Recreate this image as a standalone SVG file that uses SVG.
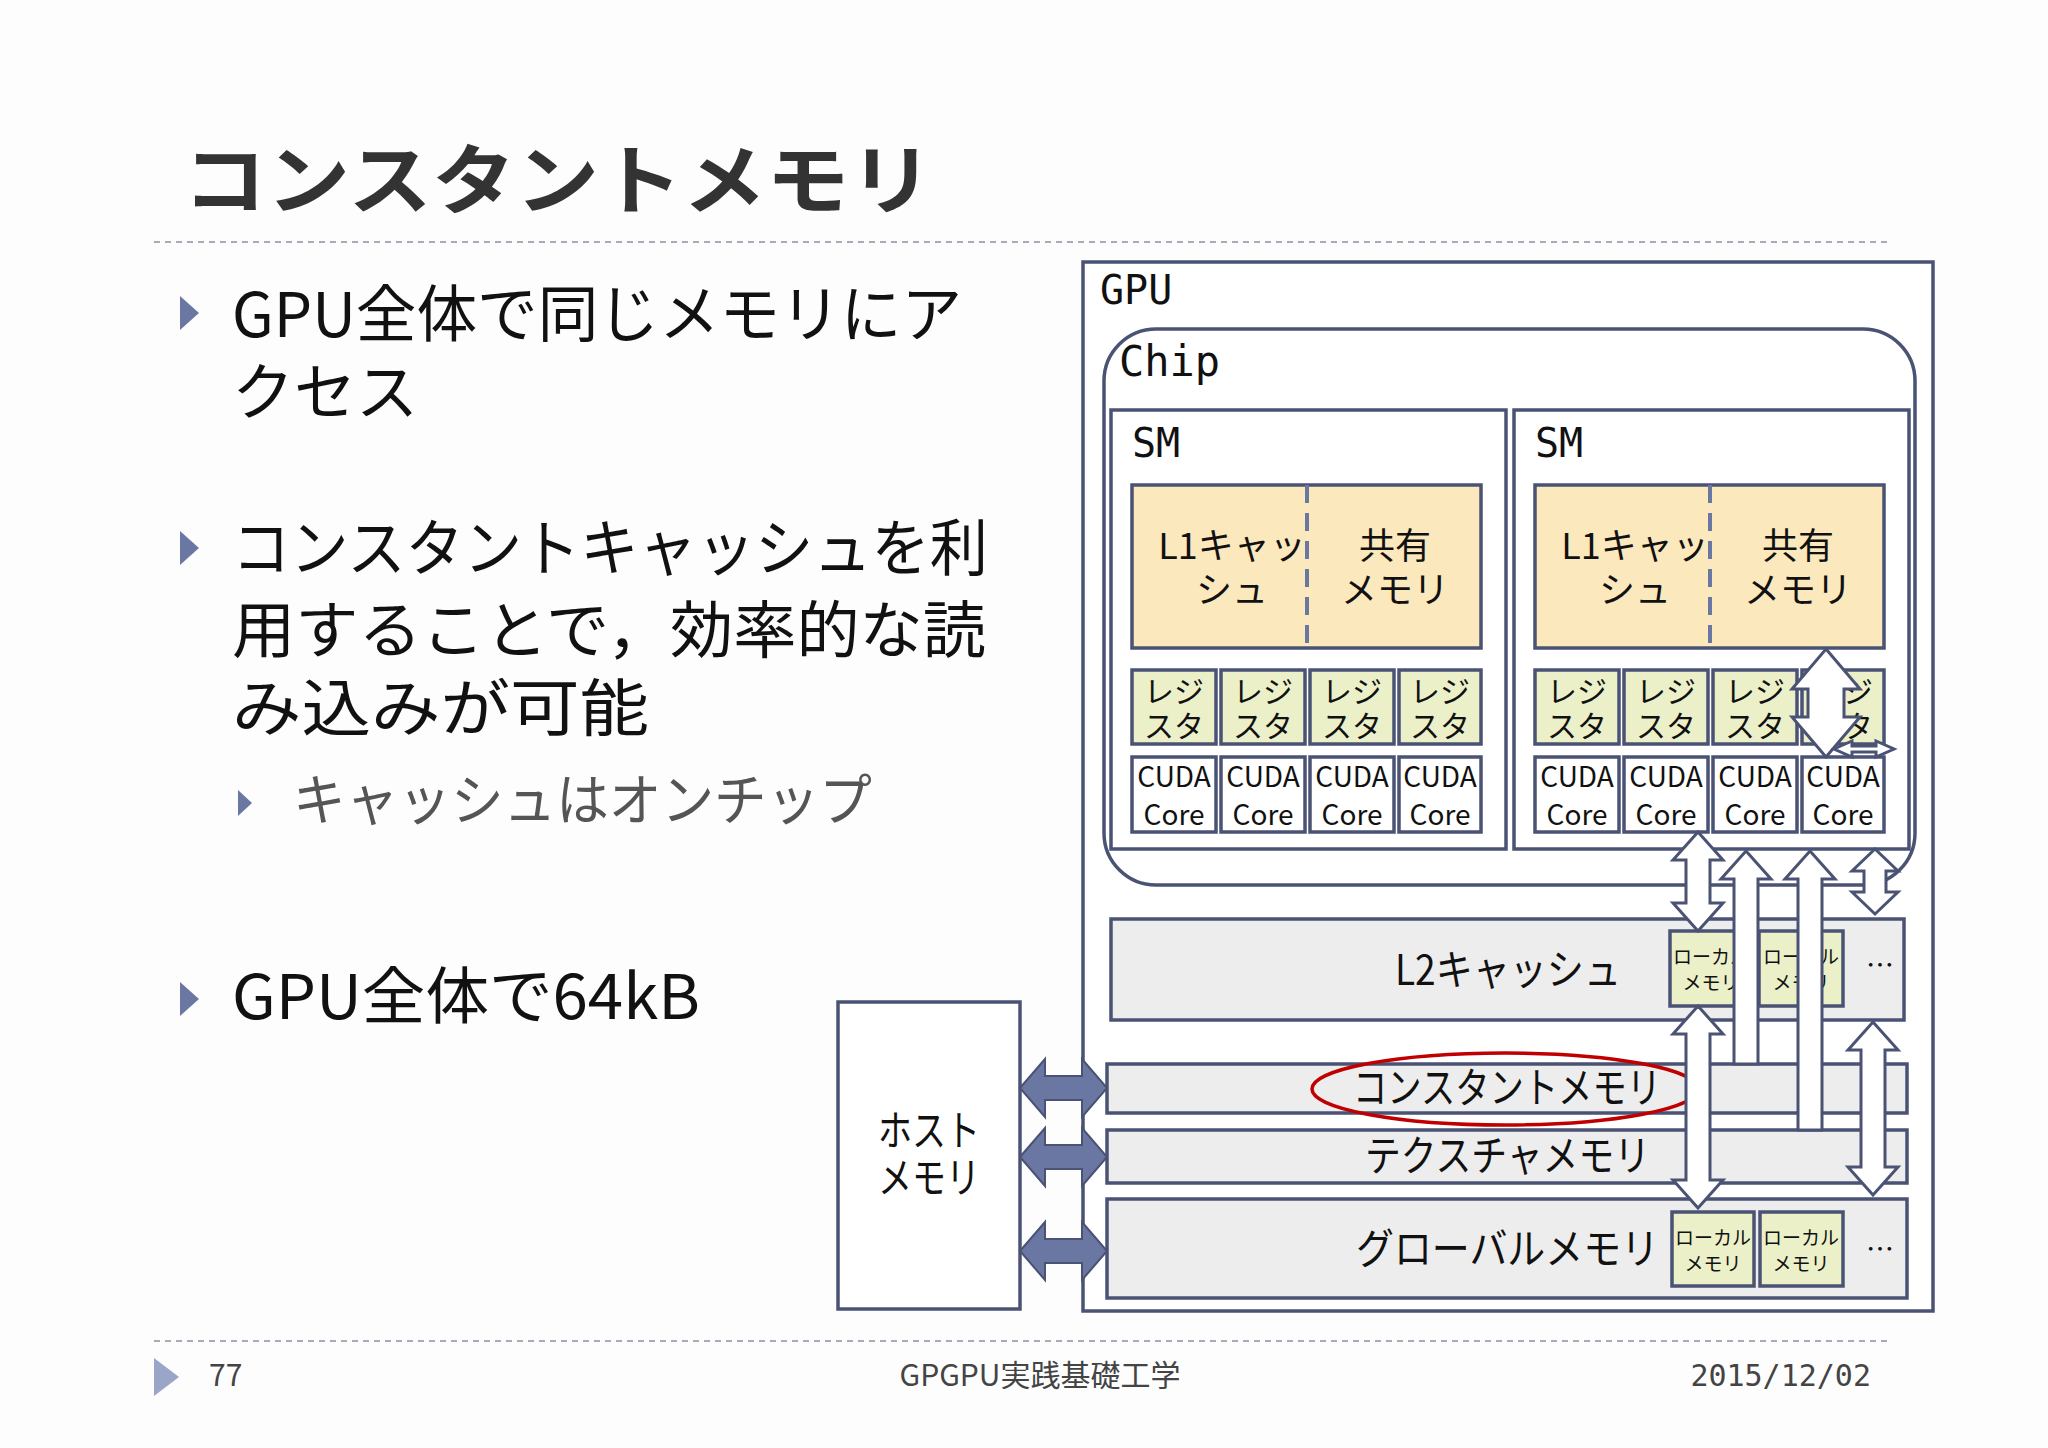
<svg xmlns="http://www.w3.org/2000/svg" width="2048" height="1448" viewBox="0 0 2048 1448">
<style>
.t{font-family:"Noto Sans CJK JP","Liberation Sans",sans-serif;fill:#111}
.m{font-family:"DejaVu Sans Mono","Liberation Mono",monospace;fill:#111}
.box{stroke:#4b5374;stroke-width:3.5}
.ar{fill:#fff;stroke:#4b5374;stroke-width:3}
.ha{fill:#6b77a3;stroke:#4b5374;stroke-width:2}
.bul{fill:#6b77a3}
</style>
<rect width="2048" height="1448" fill="#fdfdfd"/>
<text x="183" y="208" class="t" font-size="76" font-weight="bold" textLength="750" lengthAdjust="spacingAndGlyphs" style="fill:#333">コンスタントメモリ</text>
<line x1="154" y1="242" x2="1891" y2="242" stroke="#aab" stroke-width="2" stroke-dasharray="6,5"/>
<g id="bullets">
<polygon class="bul" points="180,296 199,313 180,330"/>
<text x="232" y="337" class="t" font-size="62" textLength="730" lengthAdjust="spacingAndGlyphs">GPU全体で同じメモリにア</text>
<text x="232" y="415" class="t" font-size="62">クセス</text>
<polygon class="bul" points="180,531 199,548 180,565"/>
<text x="232" y="571" class="t" font-size="62" textLength="756" lengthAdjust="spacingAndGlyphs">コンスタントキャッシュを利</text>
<text x="232" y="653" class="t" font-size="62" textLength="754" lengthAdjust="spacingAndGlyphs">用することで，効率的な読</text>
<text x="232" y="731" class="t" font-size="62" textLength="417" lengthAdjust="spacingAndGlyphs">み込みが可能</text>
<polygon class="bul" points="238,790 252,803 238,816"/>
<text x="293" y="820" class="t" font-size="56" textLength="579" lengthAdjust="spacingAndGlyphs" style="fill:#555">キャッシュはオンチップ</text>
<polygon class="bul" points="180,982 199,999 180,1016"/>
<text x="232" y="1019" class="t" font-size="62" textLength="468" lengthAdjust="spacingAndGlyphs">GPU全体で64kB</text>
</g>
<line x1="154" y1="1341" x2="1891" y2="1341" stroke="#aab" stroke-width="2" stroke-dasharray="6,5"/>
<polygon class="bul" points="154,1358 179,1377 154,1396" style="fill:#9aa6c8"/>
<text x="209" y="1386" class="t" font-size="30" style="fill:#444">77</text>
<text x="1040" y="1386" class="t" font-size="30" text-anchor="middle" style="fill:#444">GPGPU実践基礎工学</text>
<text x="1871" y="1386" class="m" font-size="30" text-anchor="end" style="fill:#444">2015/12/02</text>

<g id="gpu"><rect class="box" x="1083" y="262" width="850" height="1049" fill="#fff"/>
<text x="1100" y="304" class="m" font-size="40">GPU</text></g>
<g id="chip"><rect class="box" x="1104" y="329" width="811" height="556" rx="52" fill="#fff"/>
<text x="1119" y="376" class="m" font-size="42">Chip</text></g>

<g id="sm1">
<rect class="box" x="1111" y="410" width="395" height="439" fill="#fff"/>
<text x="1132" y="457" class="m" font-size="40">SM</text>
<rect class="box" x="1132" y="485" width="349" height="163" fill="#fbe8bd"/>
<line x1="1307" y1="485" x2="1307" y2="648" stroke="#6b77a3" stroke-width="4" stroke-dasharray="18,10"/>
<text class="t" font-size="36" text-anchor="middle"><tspan x="1232" y="559">L1キャッ</tspan><tspan x="1232" y="603">シュ</tspan><tspan x="1395" y="559">共有</tspan><tspan x="1395" y="603">メモリ</tspan></text>
<g fill="#ebf0c9" class="box"><rect x="1132" y="670" width="84" height="74"/><rect x="1221" y="670" width="84" height="74"/><rect x="1310" y="670" width="84" height="74"/><rect x="1399" y="670" width="82" height="74"/></g>
<g fill="#fff" class="box"><rect x="1132" y="757" width="84" height="75"/><rect x="1221" y="757" width="84" height="75"/><rect x="1310" y="757" width="84" height="75"/><rect x="1399" y="757" width="82" height="75"/></g>
<text class="t" font-size="30" text-anchor="middle"><tspan x="1174" y="702">レジ</tspan><tspan x="1174" y="737">スタ</tspan><tspan x="1263" y="702">レジ</tspan><tspan x="1263" y="737">スタ</tspan><tspan x="1352" y="702">レジ</tspan><tspan x="1352" y="737">スタ</tspan><tspan x="1440" y="702">レジ</tspan><tspan x="1440" y="737">スタ</tspan></text>
<text class="t" font-size="28" text-anchor="middle" font-family="Liberation Sans"><tspan x="1174" y="787">CUDA</tspan><tspan x="1174" y="825">Core</tspan><tspan x="1263" y="787">CUDA</tspan><tspan x="1263" y="825">Core</tspan><tspan x="1352" y="787">CUDA</tspan><tspan x="1352" y="825">Core</tspan><tspan x="1440" y="787">CUDA</tspan><tspan x="1440" y="825">Core</tspan></text>
</g>
<g id="sm2" transform="translate(403,0)">
<rect class="box" x="1111" y="410" width="395" height="439" fill="#fff"/>
<text x="1132" y="457" class="m" font-size="40">SM</text>
<rect class="box" x="1132" y="485" width="349" height="163" fill="#fbe8bd"/>
<line x1="1307" y1="485" x2="1307" y2="648" stroke="#6b77a3" stroke-width="4" stroke-dasharray="18,10"/>
<text class="t" font-size="36" text-anchor="middle"><tspan x="1232" y="559">L1キャッ</tspan><tspan x="1232" y="603">シュ</tspan><tspan x="1395" y="559">共有</tspan><tspan x="1395" y="603">メモリ</tspan></text>
<g fill="#ebf0c9" class="box"><rect x="1132" y="670" width="84" height="74"/><rect x="1221" y="670" width="84" height="74"/><rect x="1310" y="670" width="84" height="74"/><rect x="1399" y="670" width="82" height="74"/></g>
<g fill="#fff" class="box"><rect x="1132" y="757" width="84" height="75"/><rect x="1221" y="757" width="84" height="75"/><rect x="1310" y="757" width="84" height="75"/><rect x="1399" y="757" width="82" height="75"/></g>
<text class="t" font-size="30" text-anchor="middle"><tspan x="1174" y="702">レジ</tspan><tspan x="1174" y="737">スタ</tspan><tspan x="1263" y="702">レジ</tspan><tspan x="1263" y="737">スタ</tspan><tspan x="1352" y="702">レジ</tspan><tspan x="1352" y="737">スタ</tspan><tspan x="1440" y="702">レジ</tspan><tspan x="1440" y="737">スタ</tspan></text>
<text class="t" font-size="28" text-anchor="middle" font-family="Liberation Sans"><tspan x="1174" y="787">CUDA</tspan><tspan x="1174" y="825">Core</tspan><tspan x="1263" y="787">CUDA</tspan><tspan x="1263" y="825">Core</tspan><tspan x="1352" y="787">CUDA</tspan><tspan x="1352" y="825">Core</tspan><tspan x="1440" y="787">CUDA</tspan><tspan x="1440" y="825">Core</tspan></text>
</g>

<g id="l2"><rect class="box" x="1111" y="919" width="793" height="101" fill="#ededed"/>
<text x="1395" y="985" class="t" font-size="42" textLength="226" lengthAdjust="spacingAndGlyphs">L2キャッシュ</text>
<rect class="box" x="1670" y="931" width="83" height="75" fill="#ebf0c9"/><rect class="box" x="1759" y="931" width="84" height="75" fill="#ebf0c9"/>
<text class="t" font-size="19" text-anchor="middle"><tspan x="1711" y="964">ローカル</tspan><tspan x="1711" y="990">メモリ</tspan><tspan x="1801" y="964">ローカル</tspan><tspan x="1801" y="990">メモリ</tspan></text>
<text x="1866" y="976" class="t" font-size="28">…</text></g>
<g id="const"><rect class="box" x="1107" y="1064" width="800" height="49" fill="#ededed"/>
<text x="1353" y="1103" class="t" font-size="42" textLength="308" lengthAdjust="spacingAndGlyphs">コンスタントメモリ</text>
<ellipse cx="1505" cy="1089" rx="193" ry="36" fill="none" stroke="#c00000" stroke-width="3.5"/></g>
<g id="tex"><rect class="box" x="1107" y="1130" width="800" height="53" fill="#ededed"/>
<text x="1365" y="1171" class="t" font-size="42" textLength="285" lengthAdjust="spacingAndGlyphs">テクスチャメモリ</text></g>
<g id="global"><rect class="box" x="1107" y="1199" width="800" height="99" fill="#ededed"/>
<text x="1356" y="1264" class="t" font-size="42" textLength="303" lengthAdjust="spacingAndGlyphs">グローバルメモリ</text>
<rect class="box" x="1672" y="1212" width="82" height="74" fill="#ebf0c9"/><rect class="box" x="1760" y="1212" width="83" height="74" fill="#ebf0c9"/>
<text class="t" font-size="19" text-anchor="middle"><tspan x="1713" y="1245">ローカル</tspan><tspan x="1713" y="1271">メモリ</tspan><tspan x="1801" y="1245">ローカル</tspan><tspan x="1801" y="1271">メモリ</tspan></text>
<text x="1866" y="1260" class="t" font-size="28">…</text></g>
<g id="host"><rect class="box" x="838" y="1002" width="182" height="307" fill="#fff"/>
<text class="t" font-size="42" text-anchor="middle"><tspan x="929" y="1146" textLength="102" lengthAdjust="spacingAndGlyphs">ホスト</tspan><tspan x="929" y="1193" textLength="102" lengthAdjust="spacingAndGlyphs">メモリ</tspan></text></g>

<g id="connectors">
<path class="ar" d="M1698,832 L1723,860 L1710,860 L1710,903 L1723,903 L1698,931 L1673,903 L1686,903 L1686,860 L1673,860 Z"/>
<path class="ar" d="M1698,1006 L1723,1034 L1710,1034 L1710,1180 L1723,1180 L1698,1208 L1673,1180 L1686,1180 L1686,1034 L1673,1034 Z"/>
<path class="ar" d="M1746,851 L1771,879 L1758,879 L1758,1064 L1734,1064 L1734,879 L1721,879 Z"/>
<path class="ar" d="M1810,851 L1835,879 L1822,879 L1822,1130 L1798,1130 L1798,879 L1785,879 Z"/>
<path class="ar" d="M1875,849 L1898,871 L1886,871 L1886,892 L1898,892 L1875,914 L1852,892 L1864,892 L1864,871 L1852,871 Z"/>
<path class="ar" d="M1873,1022 L1898,1050 L1885,1050 L1885,1167 L1898,1167 L1873,1195 L1848,1167 L1861,1167 L1861,1050 L1848,1050 Z"/>
<path class="ar" d="M1826,649 L1860,689 L1844,689 L1844,717 L1860,717 L1826,757 L1792,717 L1808,717 L1808,689 L1792,689 Z"/>
<path class="ar" d="M1834,749 L1852,741 L1852,746 L1876,746 L1876,741 L1894,749 L1876,757 L1876,752 L1852,752 L1852,757 Z"/>
<path class="ha" d="M1020,1088 L1045,1059 L1045,1076 L1082,1076 L1082,1059 L1107,1088 L1082,1117 L1082,1100 L1045,1100 L1045,1117 Z"/>
<path class="ha" d="M1020,1157 L1045,1128 L1045,1145 L1082,1145 L1082,1128 L1107,1157 L1082,1186 L1082,1169 L1045,1169 L1045,1186 Z"/>
<path class="ha" d="M1020,1251 L1045,1222 L1045,1239 L1082,1239 L1082,1222 L1107,1251 L1082,1280 L1082,1263 L1045,1263 L1045,1280 Z"/>
</g>
</svg>
